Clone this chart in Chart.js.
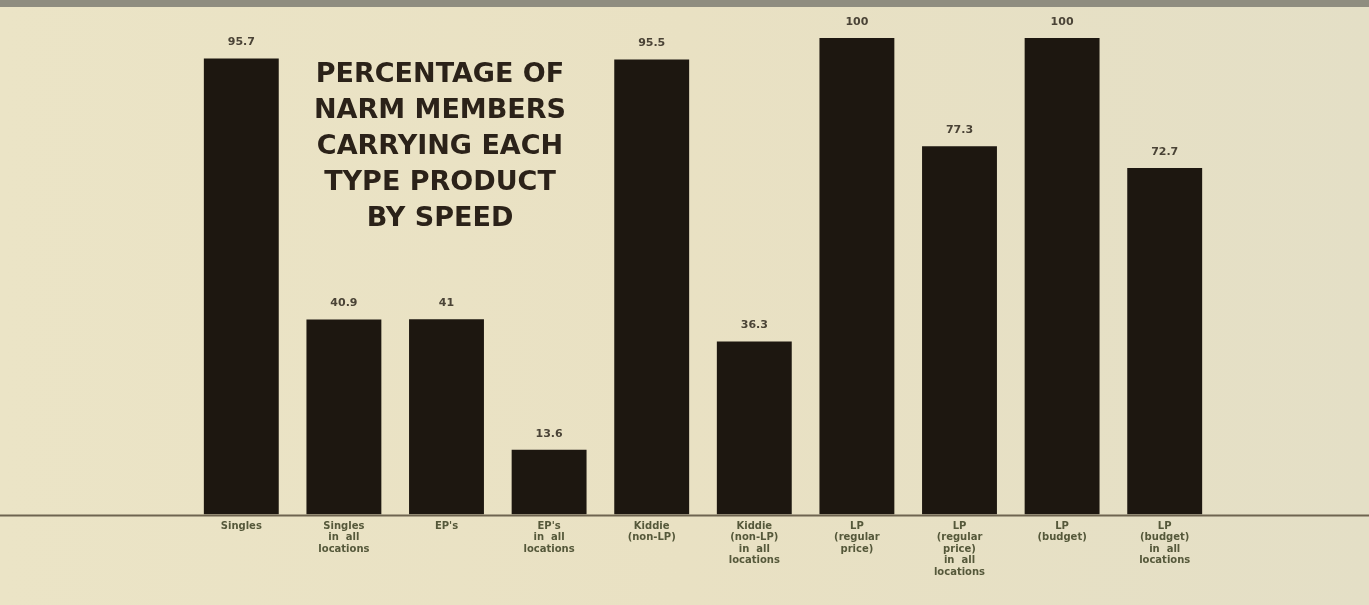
<!DOCTYPE html>
<html>
<head>
<meta charset="utf-8">
<script src="https://cdn.jsdelivr.net/npm/chart.js@4"></script>
<style>
  html, body { margin: 0; padding: 0; background: #e9e2c4; }
  #wrap { width: 1369px; height: 605px; position: relative; }
</style>
</head>
<body>
<div id="wrap"><canvas id="speed-chart"></canvas></div>
<script>
// data
var categories = [
    ["Singles"],
    ["Singles", "in  all", "locations"],
    ["EP's"],
    ["EP's", "in  all", "locations"],
    ["Kiddie", "(non-LP)"],
    ["Kiddie", "(non-LP)", "in  all", "locations"],
    ["LP", "(regular", "price)"],
    ["LP", "(regular", "price)", "in  all", "locations"],
    ["LP", "(budget)"],
    ["LP", "(budget)", "in  all", "locations"]
];
var percentCarrying = [95.7, 40.9, 41, 13.6, 95.5, 36.3, 100, 77.3, 100, 72.7];
var titleLines = ["PERCENTAGE OF", "NARM MEMBERS", "CARRYING EACH", "TYPE PRODUCT", "BY SPEED"];

// paper background, grey strip at the top
var paperPlugin = {
    id: 'paper',
    beforeDraw: function (chart) {
        var ctx = chart.ctx;
        ctx.save();
        var grad = ctx.createLinearGradient(0, 0, chart.width, 0);
        grad.addColorStop(0, '#ebe4c6');
        grad.addColorStop(0.5, '#e9e1c3');
        grad.addColorStop(1, '#e4dfc6');
        ctx.fillStyle = grad;
        ctx.fillRect(0, 0, chart.width, chart.height);
        ctx.fillStyle = '#8f8d80';
        ctx.fillRect(0, 0, chart.width, 7);
        ctx.restore();
    }
};

// baseline across the page, value labels, title block
var decorPlugin = {
    id: 'decor',
    afterDatasetsDraw: function (chart) {
        var ctx = chart.ctx;
        var yScale = chart.scales.y;
        var y0 = yScale.getPixelForValue(0);
        ctx.save();
        ctx.strokeStyle = '#6e6450';
        ctx.lineWidth = 2;
        ctx.beginPath();
        ctx.moveTo(0, y0 + 1);
        ctx.lineTo(chart.width, y0 + 1);
        ctx.stroke();

        ctx.fillStyle = '#4a4336';
        ctx.font = 'bold 11px "DejaVu Sans"';
        ctx.textAlign = 'center';
        ctx.textBaseline = 'middle';
        chart.getDatasetMeta(0).data.forEach(function (bar, i) {
            ctx.fillText(String(percentCarrying[i]), bar.x, bar.y - 16);
        });

        ctx.fillStyle = '#2b2219';
        ctx.font = 'bold 27px "DejaVu Sans"';
        var cx = chart.chartArea.left + 250;
        titleLines.forEach(function (line, i) {
            ctx.fillText(line, cx, 75 + i * 36);
        });
        ctx.restore();
    }
};

var speedCanvas = document.getElementById("speed-chart");
var speedChart = new Chart(speedCanvas, {
    type: 'bar',
    data: {
        labels: categories,
        datasets: [{
            label: "Percentage carrying",
            data: percentCarrying,
            backgroundColor: "#1d1710",
            borderWidth: 0,
            barPercentage: 0.73,
            categoryPercentage: 1.0
        }]
    },
    options: {
        responsive: true,
        maintainAspectRatio: false,
        animation: false,
        layout: {
            padding: { left: 190, right: 153, top: 38, bottom: 21 }
        },
        plugins: {
            legend: { display: false },
            tooltip: { enabled: false }
        },
        scales: {
            x: {
                grid: { display: false, drawTicks: false },
                border: { display: false },
                ticks: {
                    color: '#55583a',
                    font: { family: '"DejaVu Sans"', size: 10, weight: 'bold', lineHeight: 1.15 },
                    padding: 6,
                    maxRotation: 0,
                    autoSkip: false
                }
            },
            y: {
                display: false,
                min: 0,
                max: 100
            }
        }
    },
    plugins: [paperPlugin, decorPlugin]
});
</script>
</body>
</html>
